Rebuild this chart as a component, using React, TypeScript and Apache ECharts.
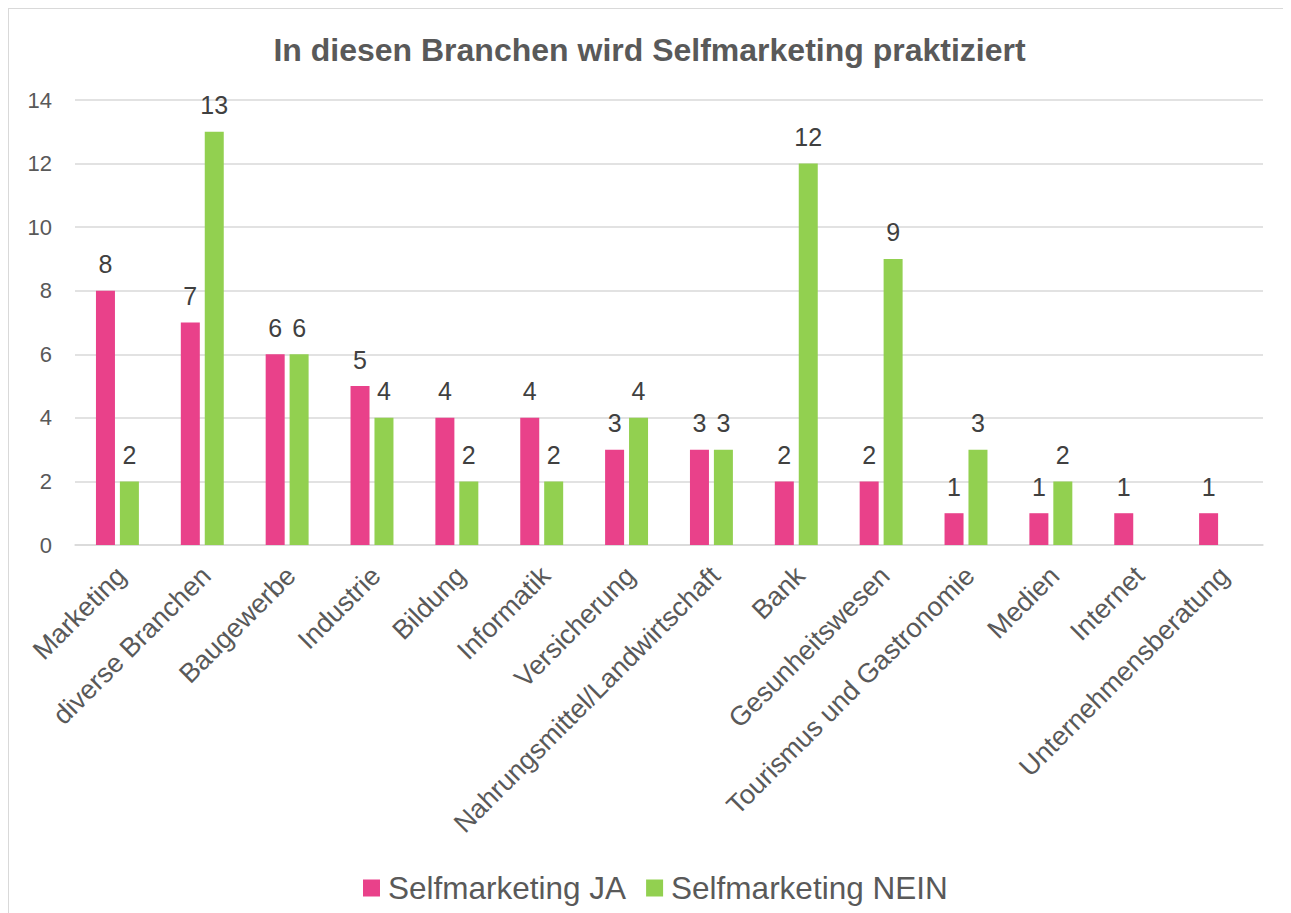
import React, { useEffect, useRef } from "react";
import * as echarts from "echarts";

const categories = [
  "Marketing",
  "diverse Branchen",
  "Baugewerbe",
  "Industrie",
  "Bildung",
  "Informatik",
  "Versicherung",
  "Nahrungsmittel/Landwirtschaft",
  "Bank",
  "Gesunheitswesen",
  "Tourismus und Gastronomie",
  "Medien",
  "Internet",
  "Unternehmensberatung",
];
const seriesJA = [8, 7, 6, 5, 4, 4, 3, 3, 2, 2, 1, 1, 1, 1];
const seriesNEIN: (number | null)[] = [2, 13, 6, 4, 2, 2, 4, 3, 12, 9, 3, 2, null, null];
const seriesNames = ["Selfmarketing JA", "Selfmarketing NEIN"];
const titleText = "In diesen Branchen wird Selfmarketing praktiziert";

const FONT = "'Liberation Sans', Arial, sans-serif";
const PINK = "#E9418A";
const GREEN = "#92D050";

export default function App() {
  const ref = useRef<HTMLDivElement>(null);
  useEffect(() => {
    document.documentElement.style.overflow = "hidden";
    document.body.style.overflow = "hidden";
    if (!ref.current) return;
    const chart = echarts.init(ref.current, null, { renderer: "svg" });
    const labelCfg = {
      show: true,
      position: "top" as const,
      distance: 14,
      fontSize: 25,
      color: "#404040",
      fontFamily: FONT,
    };
    chart.setOption({
      animation: false,
      backgroundColor: "#ffffff",
      textStyle: { fontFamily: FONT },
      title: {
        text: titleText,
        left: "center",
        top: 21,
        textStyle: { fontSize: 32, fontWeight: "bold", color: "#595959", fontFamily: FONT },
      },
      legend: {
        data: seriesNames,
        left: 350,
        top: 859,
        icon: "rect",
        itemWidth: 17,
        itemHeight: 17,
        itemGap: 20,
        textStyle: { fontSize: 31.5, color: "#595959", fontFamily: FONT, padding: [0, 0, 0, 3] },
      },
      grid: { left: 67, right: 28, top: 92, height: 445 },
      xAxis: {
        type: "category",
        data: categories,
        axisLine: { lineStyle: { color: "#D9D9D9", width: 1.5 } },
        axisTick: { show: false },
        axisLabel: {
          interval: 0,
          rotate: 45,
          margin: 11,
          verticalAlign: "top",
          padding: [0, 8, 0, 0],
          fontSize: 27,
          color: "#595959",
          fontFamily: FONT,
        },
      },
      yAxis: {
        type: "value",
        min: 0,
        max: 14,
        interval: 2,
        axisLine: { show: false },
        axisTick: { show: false },
        splitLine: { lineStyle: { color: "#D9D9D9", width: 1.5 } },
        axisLabel: { fontSize: 22, color: "#595959", margin: 23, fontFamily: FONT },
      },
      series: [
        {
          name: seriesNames[0],
          type: "bar",
          data: seriesJA,
          barWidth: 19,
          barGap: "26%",
          itemStyle: { color: PINK },
          label: labelCfg,
        },
        {
          name: seriesNames[1],
          type: "bar",
          data: seriesNEIN,
          barWidth: 19,
          itemStyle: { color: GREEN },
          label: labelCfg,
        },
      ],
    });
    return () => chart.dispose();
  }, []);
  return (
    <div style={{ position: "relative", width: 1283, height: 905 }}>
      <div ref={ref} style={{ position: "absolute", left: 0, top: 0, width: 1283, height: 905 }} />
      <div
        style={{
          position: "absolute",
          left: 0,
          top: 0,
          width: 1283,
          height: 905,
          boxSizing: "border-box",
          borderTop: "1px solid #D9D9D9",
          borderLeft: "1px solid #D9D9D9",
          pointerEvents: "none",
        }}
      />
    </div>
  );
}
